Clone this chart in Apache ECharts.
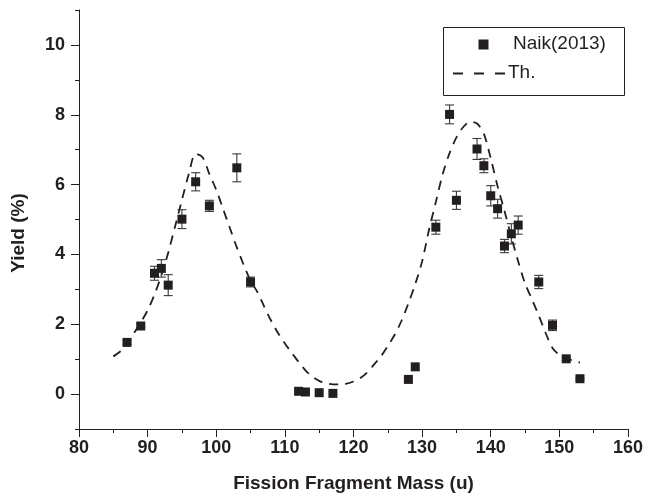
<!DOCTYPE html>
<html>
<head>
<meta charset="utf-8">
<script src="https://cdn.jsdelivr.net/npm/echarts@6/dist/echarts.min.js"></script>
<style>html,body{margin:0;padding:0;background:#fff;}#chart{width:646px;height:499px;}</style>
</head>
<body>
<div id="chart"></div>
<script>
var expMass = [87,89,91,92,93,95,97,99,103,105,112,113,115,117,128,129,132,134,135,138,139,140,141,142,143,144,147,149,151,153];
var expYield = [1.48,1.95,3.46,3.6,3.12,5.01,6.08,5.39,6.48,3.21,0.08,0.06,0.04,0.02,0.42,0.78,4.78,8.01,5.55,7.02,6.54,5.68,5.31,4.24,4.59,4.84,3.21,1.97,1.01,0.44];
var expErr = [0.05,0.05,0.2,0.25,0.3,0.27,0.26,0.16,0.4,0.14,0,0,0,0,0,0,0.2,0.27,0.26,0.3,0.2,0.29,0.27,0.19,0.29,0.26,0.19,0.15,0.05,0.03];
var thMass = [85,86,87,88,89,90,91,92,93,94,95,96,97,98,99,100,101,102,103,104,105,106,107,108,109,110,111,112,113,114,115,116,117,118,119,120,121,122,123,124,125,126,127,128,129,130,131,132,133,134,135,136,137,138,139,140,141,142,143,144,145,146,147,148,149,150,151,152,153];
var thYield = [1.08,1.22,1.42,1.74,2.05,2.4,2.85,3.4,4.05,4.8,5.56,6.3,6.88,6.78,6.3,5.85,5.3,4.75,4.2,3.7,3.25,2.92,2.5,2.1,1.75,1.45,1.18,0.92,0.68,0.5,0.38,0.31,0.28,0.28,0.3,0.36,0.46,0.62,0.85,1.08,1.38,1.7,2.1,2.6,3.15,3.8,4.7,5.5,6.3,6.9,7.35,7.65,7.8,7.75,7.45,6.75,5.95,5.25,4.5,3.8,3.17,2.72,2.25,1.75,1.32,1.12,1.02,0.96,0.9];
var xTickLabels = [80,90,100,110,120,130,140,150,160];
var yTickLabels = [0,2,4,6,8,10];
var yMinorTicks = [-1,1,3,5,7,9,11];

var ink = '#231f20';
var font = '"Liberation Sans", Arial, Helvetica, sans-serif';

var scatterData = expMass.map(function(m,i){return [m, expYield[i]];});
var errData = expMass.map(function(m,i){return [m, expYield[i]-expErr[i], expYield[i]+expErr[i]];}).filter(function(d){return d[2]-d[1]>0.05;});
var thData = thMass.map(function(m,i){return [m, thYield[i]];});

var chart = echarts.init(document.getElementById('chart'), null, {renderer:'canvas'});
var option = {
  animation: false,
  backgroundColor: '#fff',
  grid: {left: 79, right: 16, top: 10, bottom: 70, containLabel: false},
  xAxis: [{
    type: 'value', min: 80, max: 160, interval: 10,
    axisLine: {show: true, onZero: false, lineStyle: {color: ink, width: 1}},
    axisTick: {show: true, inside: false, length: 8, lineStyle: {color: ink, width: 1}},
    minorTick: {show: true, splitNumber: 2, length: 4, lineStyle: {color: ink, width: 1}},
    splitLine: {show: false},
    axisLabel: {color: ink, fontSize: 18, fontWeight: 'bold', fontFamily: font, margin: 10,
      customValues: xTickLabels},
    name: 'Fission Fragment Mass (u)', nameLocation: 'middle', nameGap: 45,
    nameTextStyle: {color: ink, fontSize: 19, fontWeight: 'bold', fontFamily: font}
  }],
  yAxis: [{
    type: 'value', min: -1, max: 11, interval: 1,
    axisLine: {show: true, onZero: false, lineStyle: {color: ink, width: 1}},
    axisTick: {show: true, inside: false, length: 8, lineStyle: {color: ink, width: 1}, customValues: yTickLabels},
    splitLine: {show: false},
    axisLabel: {color: ink, fontSize: 18, fontWeight: 'bold', fontFamily: font, margin: 14,
      customValues: yTickLabels}
  }, {
    type: 'value', min: -1, max: 11, interval: 1, position: 'left', offset: 0,
    axisLine: {show: false},
    axisTick: {show: true, inside: false, length: 4, lineStyle: {color: ink, width: 1}, customValues: yMinorTicks},
    splitLine: {show: false},
    axisLabel: {show: false}
  }],
  series: [{
    name: 'Th.', type: 'line', data: thData, smooth: 0.3, symbol: 'none',
    lineStyle: {color: ink, width: 1.8, type: [9, 7]}, z: 2
  }, {
    name: 'err', type: 'custom', data: errData, z: 3,
    renderItem: function(params, api){
      var x = api.value(0);
      var lo = api.coord([x, api.value(1)]);
      var hi = api.coord([x, api.value(2)]);
      var cw = 4.5;
      var st = {stroke: '#3a3a3a', lineWidth: 1.1, fill: null};
      return {type: 'group', children: [
        {type: 'line', shape: {x1: lo[0], y1: lo[1], x2: hi[0], y2: hi[1]}, style: st},
        {type: 'line', shape: {x1: lo[0]-cw, y1: lo[1], x2: lo[0]+cw, y2: lo[1]}, style: st},
        {type: 'line', shape: {x1: hi[0]-cw, y1: hi[1], x2: hi[0]+cw, y2: hi[1]}, style: st}
      ]};
    }
  }, {
    name: 'Naik(2013)', type: 'scatter', data: scatterData, symbol: 'rect', symbolSize: 9,
    itemStyle: {color: ink, opacity: 1}, z: 4
  }],
  graphic: [
    {type: 'text', rotation: Math.PI/2, x: 19, y: 233,
      style: {text: 'Yield (%)', fill: ink, font: 'bold 19px ' + font, align: 'center', verticalAlign: 'middle'}},
    {type: 'rect', shape: {x: 443.5, y: 27.5, width: 181, height: 68}, style: {fill: '#fff', stroke: ink, lineWidth: 1}, z: 10},
    {type: 'rect', shape: {x: 478.5, y: 39.5, width: 10, height: 10}, style: {fill: ink}, z: 11},
    {type: 'text', x: 513, y: 44, style: {text: 'Naik(2013)', fill: ink, font: '19px ' + font, verticalAlign: 'middle'}, z: 11},
    {type: 'line', shape: {x1: 453, y1: 73.5, x2: 506, y2: 73.5}, style: {stroke: ink, lineWidth: 1.8, lineDash: [10, 11]}, z: 11},
    {type: 'text', x: 508, y: 73, style: {text: 'Th.', fill: ink, font: '19px ' + font, verticalAlign: 'middle'}, z: 11}
  ]
};
chart.setOption(option);
</script>
</body>
</html>
